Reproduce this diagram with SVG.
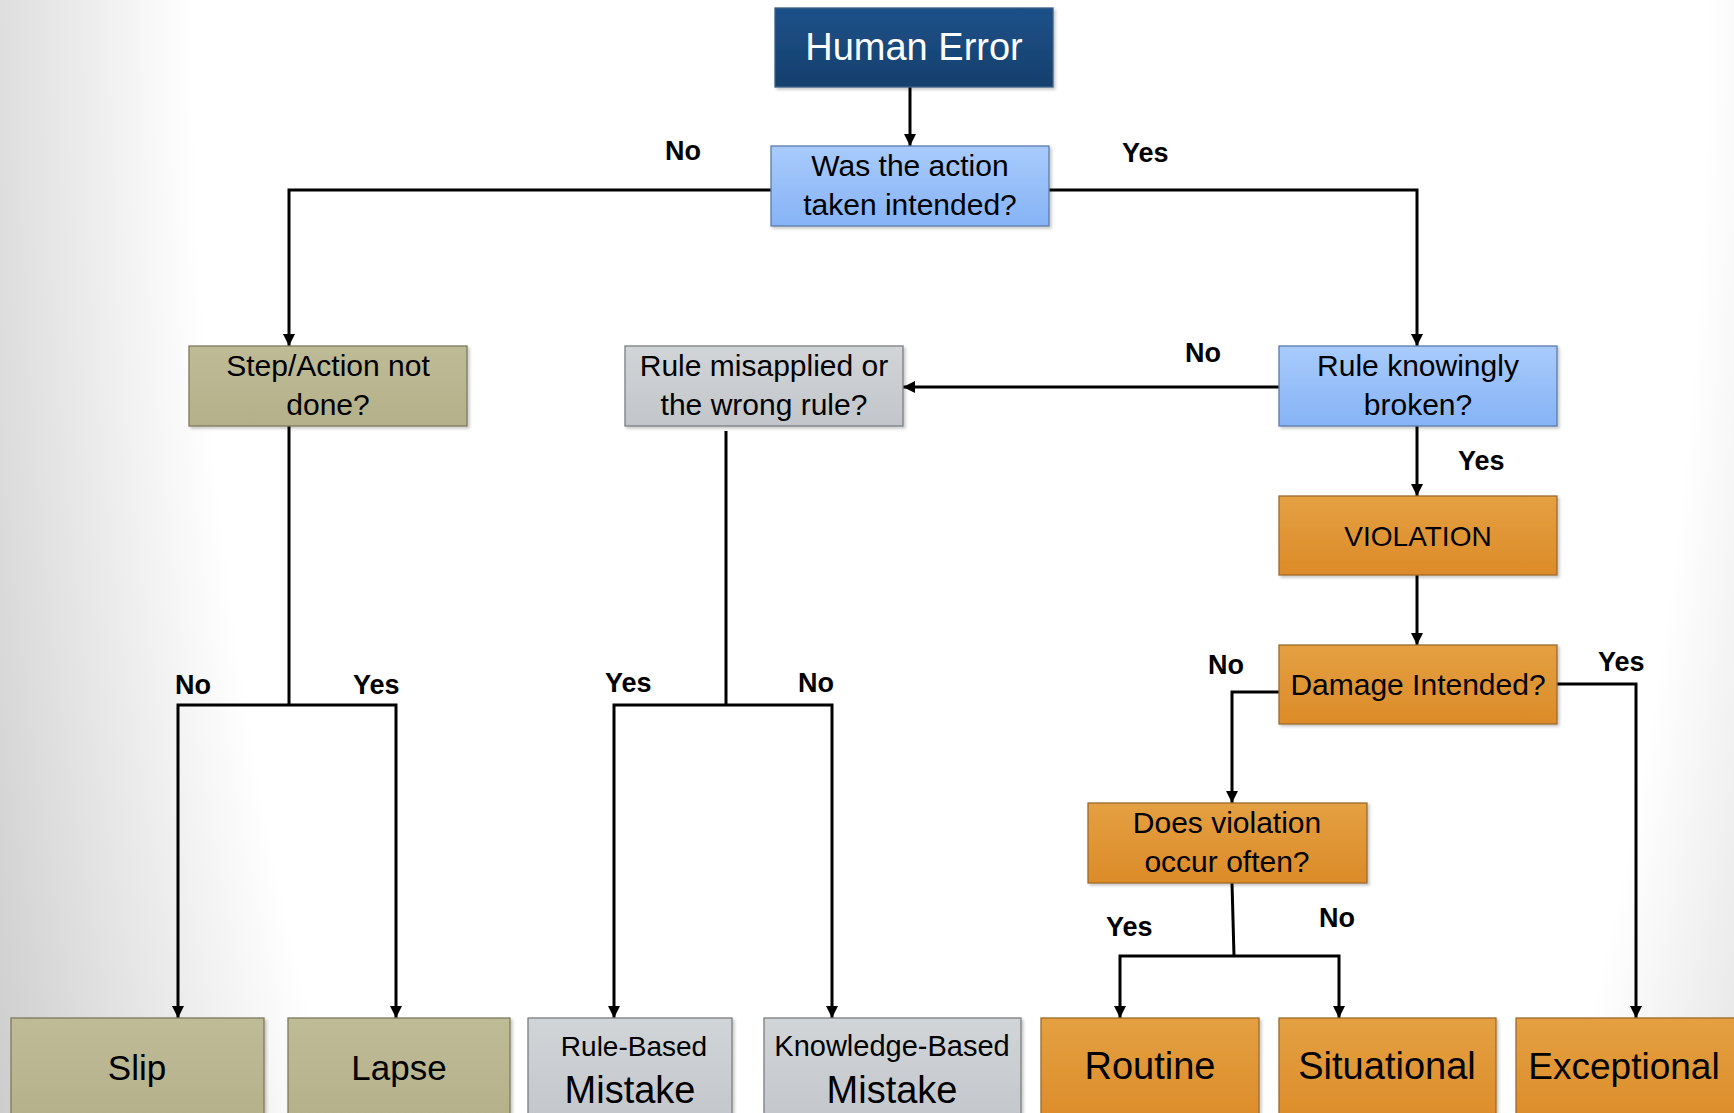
<svg xmlns="http://www.w3.org/2000/svg" width="1734" height="1113" viewBox="0 0 1734 1113">
<defs>
<radialGradient id="bg" gradientUnits="userSpaceOnUse" cx="950" cy="0" r="1080" gradientTransform="translate(950,0) scale(1,2.5) translate(-950,0)">
<stop offset="0" stop-color="#ffffff"/>
<stop offset="0.7" stop-color="#ffffff"/>
<stop offset="1" stop-color="#c8c8c8"/>
</radialGradient>
<linearGradient id="gNavy" x1="0" y1="0" x2="0" y2="1"><stop offset="0" stop-color="#1d5189"/><stop offset="1" stop-color="#163f6d"/></linearGradient>
<linearGradient id="gBlue" x1="0" y1="0" x2="0" y2="1"><stop offset="0" stop-color="#a8cbfb"/><stop offset="1" stop-color="#86b3f6"/></linearGradient>
<linearGradient id="gOlive" x1="0" y1="0" x2="0" y2="1"><stop offset="0" stop-color="#bebb97"/><stop offset="1" stop-color="#b4b089"/></linearGradient>
<linearGradient id="gGray" x1="0" y1="0" x2="0" y2="1"><stop offset="0" stop-color="#d1d5d8"/><stop offset="1" stop-color="#c2c6ca"/></linearGradient>
<linearGradient id="gOrange" x1="0" y1="0" x2="0" y2="1"><stop offset="0" stop-color="#e4a042"/><stop offset="1" stop-color="#dc8b28"/></linearGradient>
<filter id="sh" x="-5%" y="-5%" width="115%" height="125%">
<feDropShadow dx="2" dy="2" stdDeviation="1.5" flood-color="#000" flood-opacity="0.22"/>
</filter>
<marker id="ah" markerUnits="userSpaceOnUse" viewBox="0 0 12 12" refX="12" refY="6" markerWidth="12" markerHeight="12" orient="auto">
<path d="M0,0 L12,6 L0,12 z" fill="#000"/>
</marker>
</defs>
<style>
.box{filter:url(#sh);stroke-width:1.3}
.navy{fill:url(#gNavy);stroke:#3b5c84}
.blue{fill:url(#gBlue);stroke:#5b7ca8}
.olive{fill:url(#gOlive);stroke:#7d7a5e}
.gray{fill:url(#gGray);stroke:#7a7e82}
.orange{fill:url(#gOrange);stroke:#9c6a2c}
.t{font-family:"Liberation Sans",Arial,sans-serif;fill:#000;text-anchor:middle}
.q{font-size:30px}
.lbl{font-family:"Liberation Sans",Arial,sans-serif;font-weight:bold;font-size:27px;fill:#000}
.c{fill:none;stroke:#000;stroke-width:3}
.ca{fill:none;stroke:#000;stroke-width:3;marker-end:url(#ah)}
</style>
<rect x="0" y="0" width="1734" height="1113" fill="url(#bg)"/>

<g id="connectors">
<path class="ca" d="M910,87 V146"/>
<path class="ca" d="M771,190 H289 V346"/>
<path class="ca" d="M1049,190 H1417 V346"/>
<path class="ca" d="M1279,387 H903"/>
<path class="ca" d="M1417,426 V496"/>
<path class="ca" d="M1417,575 V645"/>
<path class="ca" d="M1279,692 H1232 V803"/>
<path class="ca" d="M1556,684 H1636 V1018"/>
<path class="c" d="M1232,883 L1234,956"/>
<path class="ca" d="M1234,956 H1120 V1018"/>
<path class="ca" d="M1234,956 H1339 V1018"/>
<path class="c" d="M289,426 V705"/>
<path class="ca" d="M289,705 H178 V1018"/>
<path class="ca" d="M289,705 H396 V1018"/>
<path class="c" d="M726,431 V705"/>
<path class="ca" d="M726,705 H614 V1018"/>
<path class="ca" d="M726,705 H832 V1018"/>
</g>

<g id="labels">
<text class="lbl" x="665" y="160">No</text>
<text class="lbl" x="1122" y="162">Yes</text>
<text class="lbl" x="1185" y="362">No</text>
<text class="lbl" x="1458" y="470">Yes</text>
<text class="lbl" x="1208" y="674">No</text>
<text class="lbl" x="1598" y="671">Yes</text>
<text class="lbl" x="175" y="694">No</text>
<text class="lbl" x="353" y="694">Yes</text>
<text class="lbl" x="605" y="692">Yes</text>
<text class="lbl" x="798" y="692">No</text>
<text class="lbl" x="1106" y="936">Yes</text>
<text class="lbl" x="1319" y="927">No</text>
</g>

<g id="human-error">
<rect class="box navy" x="775" y="8" width="278" height="79"/>
<text class="t" x="914" y="60" style="font-size:38px;fill:#fff">Human Error</text>
</g>
<g id="action-intended">
<rect class="box blue" x="771" y="146" width="278" height="80"/>
<text class="t q" x="910" y="176">Was the action</text>
<text class="t q" x="910" y="215">taken intended?</text>
</g>
<g id="step-not-done">
<rect class="box olive" x="189" y="346" width="278" height="80"/>
<text class="t q" x="328" y="376">Step/Action not</text>
<text class="t q" x="328" y="415">done?</text>
</g>
<g id="rule-misapplied">
<rect class="box gray" x="625" y="346" width="278" height="80"/>
<text class="t q" x="764" y="376">Rule misapplied or</text>
<text class="t q" x="764" y="415">the wrong rule?</text>
</g>
<g id="rule-broken">
<rect class="box blue" x="1279" y="346" width="278" height="80"/>
<text class="t q" x="1418" y="376">Rule knowingly</text>
<text class="t q" x="1418" y="415">broken?</text>
</g>
<g id="violation">
<rect class="box orange" x="1279" y="496" width="278" height="79"/>
<text class="t" x="1418" y="546" style="font-size:28px">VIOLATION</text>
</g>
<g id="damage-intended">
<rect class="box orange" x="1279" y="645" width="278" height="79"/>
<text class="t q" x="1418" y="695">Damage Intended?</text>
</g>
<g id="occur-often">
<rect class="box orange" x="1088" y="803" width="279" height="80"/>
<text class="t q" x="1227" y="833">Does violation</text>
<text class="t q" x="1227" y="872">occur often?</text>
</g>
<g id="slip">
<rect class="box olive" x="11" y="1018" width="253" height="110"/>
<text class="t" x="137" y="1080" style="font-size:35px">Slip</text>
</g>
<g id="lapse">
<rect class="box olive" x="288" y="1018" width="222" height="110"/>
<text class="t" x="399" y="1080" style="font-size:35px">Lapse</text>
</g>
<g id="rule-based">
<rect class="box gray" x="528" y="1018" width="204" height="110"/>
<text class="t" x="634" y="1056" style="font-size:28px">Rule-Based</text>
<text class="t" x="630" y="1103" style="font-size:38px">Mistake</text>
</g>
<g id="knowledge-based">
<rect class="box gray" x="764" y="1018" width="257" height="110"/>
<text class="t" x="892" y="1056" style="font-size:29px">Knowledge-Based</text>
<text class="t" x="892" y="1103" style="font-size:38px">Mistake</text>
</g>
<g id="routine">
<rect class="box orange" x="1041" y="1018" width="218" height="110"/>
<text class="t" x="1150" y="1079" style="font-size:38px">Routine</text>
</g>
<g id="situational">
<rect class="box orange" x="1279" y="1018" width="217" height="110"/>
<text class="t" x="1387" y="1079" style="font-size:38px">Situational</text>
</g>
<g id="exceptional">
<rect class="box orange" x="1516" y="1018" width="240" height="110"/>
<text class="t" x="1624" y="1079" style="font-size:37px">Exceptional</text>
</g>
</svg>
